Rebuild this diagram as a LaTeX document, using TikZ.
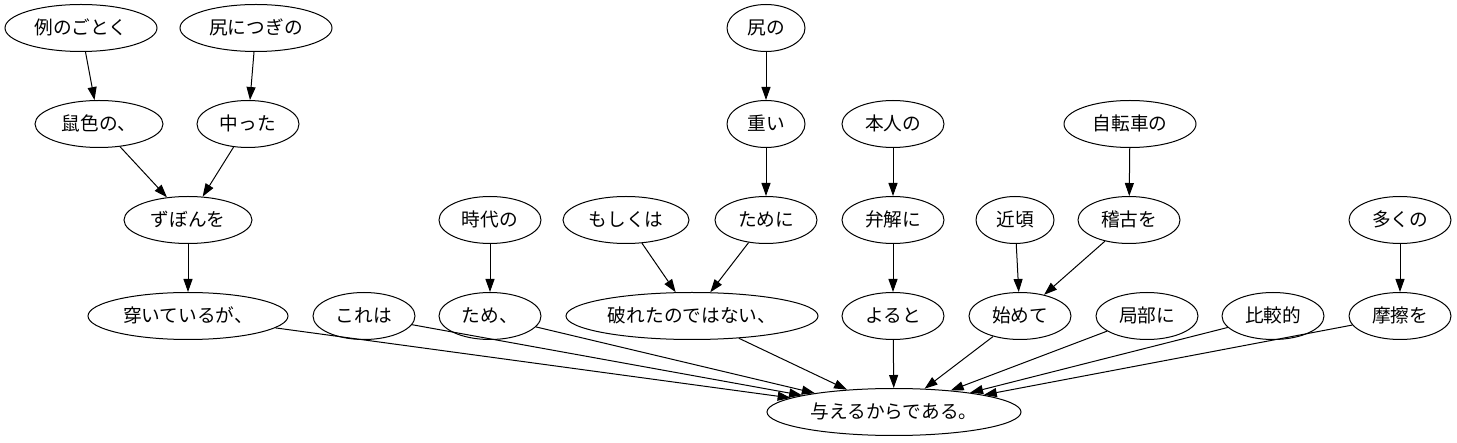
\documentclass[tikz,border=0pt]{standalone}
\usepackage{fontspec}
\newfontfamily\jp{Noto Sans CJK JP}
\usepackage{tikz}
\usetikzlibrary{shapes.geometric,arrows.meta}

\begin{document}
\begin{tikzpicture}[x=1pt,y=-1pt,
  word/.style={draw,ellipse,line width=1pt,minimum height=47pt,inner sep=0pt,
    text height=16pt,text depth=3pt,font=\jp\fontsize{18.67}{22}\selectfont},
  dep/.style={-{Triangle[length=13pt,width=9pt]},line width=1pt}]
\useasboundingbox (0,0) rectangle (1457,443);
% top row
\node[word,minimum width=152pt] (rei) at (81,28) {例のごとく};
\node[word,minimum width=152pt] (shiritsugi) at (256,28) {尻につぎの};
\node[word,minimum width=78pt] (shiri) at (766,28) {尻の};
% second row
\node[word,minimum width=128pt] (nezumi) at (99,124) {鼠色の、};
\node[word,minimum width=102pt] (atatta) at (248,124) {中った};
\node[word,minimum width=78pt] (omoi) at (766,124) {重い};
\node[word,minimum width=102pt] (honnin) at (893,124) {本人の};
\node[word,minimum width=132pt] (jitensha) at (1130,124) {自転車の};
% third row
\node[word,minimum width=128pt] (zubon) at (188,220) {ずぼんを};
\node[word,minimum width=102pt] (jidai) at (490,220) {時代の};
\node[word,minimum width=126pt] (moshiku) at (626,220) {もしくは};
\node[word,minimum width=102pt] (tameni) at (766,220) {ために};
\node[word,minimum width=102pt] (benkai) at (893,220) {弁解に};
\node[word,minimum width=78pt] (chikagoro) at (1015,220) {近頃};
\node[word,minimum width=102pt] (keiko) at (1129,220) {稽古を};
\node[word,minimum width=102pt] (ooku) at (1400,220) {多くの};
% fourth row
\node[word,minimum width=200pt] (haite) at (188,316) {穿いているが、};
\node[word,minimum width=102pt] (kore) at (364,316) {これは};
\node[word,minimum width=102pt] (tame) at (490,316) {ため、};
\node[word,minimum width=252pt] (yabure) at (692,316) {破れたのではない、};
\node[word,minimum width=102pt] (yoruto) at (893,316) {よると};
\node[word,minimum width=102pt] (hajimete) at (1020,316) {始めて};
\node[word,minimum width=102pt] (kyokubu) at (1147,316) {局部に};
\node[word,minimum width=102pt] (hikaku) at (1273,316) {比較的};
\node[word,minimum width=102pt] (masatsu) at (1400,316) {摩擦を};
% root
\node[word,minimum width=254pt] (ataeru) at (894,412) {与えるからである。};

\draw[dep] (rei) -- (nezumi);
\draw[dep] (shiritsugi) -- (atatta);
\draw[dep] (nezumi) -- (zubon);
\draw[dep] (atatta) -- (zubon);
\draw[dep] (zubon) -- (haite);
\draw[dep] (shiri) -- (omoi);
\draw[dep] (omoi) -- (tameni);
\draw[dep] (jidai) -- (tame);
\draw[dep] (moshiku) -- (yabure);
\draw[dep] (tameni) -- (yabure);
\draw[dep] (honnin) -- (benkai);
\draw[dep] (benkai) -- (yoruto);
\draw[dep] (jitensha) -- (keiko);
\draw[dep] (chikagoro) -- (hajimete);
\draw[dep] (keiko) -- (hajimete);
\draw[dep] (ooku) -- (masatsu);
\foreach \w in {haite,kore,tame,yabure,yoruto,hajimete,kyokubu,hikaku,masatsu}
  \draw[dep] (\w) -- (ataeru);
\end{tikzpicture}
\end{document}
